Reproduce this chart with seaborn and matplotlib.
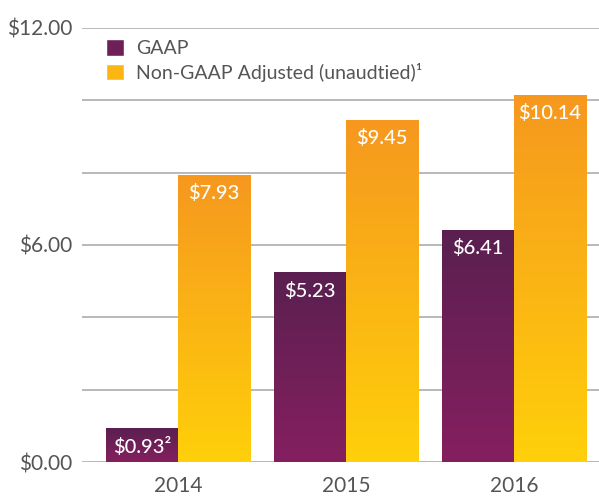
import numpy as np
import pandas as pd
import matplotlib
matplotlib.use('Agg')
import matplotlib.pyplot as plt
from matplotlib.colors import LinearSegmentedColormap
from matplotlib.patches import Patch
import seaborn as sns

years = ["2014", "2015", "2016"]
gaap = [0.93, 5.23, 6.41]
non_gaap = [7.93, 9.45, 10.14]
gaap_labels = ["$0.93²", "$5.23", "$6.41"]
non_gaap_labels = ["$7.93", "$9.45", "$10.14"]
series = ["GAAP", "Non-GAAP Adjusted (unaudtied)¹"]

df = pd.DataFrame({
    "Year": years * 2,
    "EPS": gaap + non_gaap,
    "Series": [series[0]] * 3 + [series[1]] * 3,
})

sns.set_theme(style="white")
plt.rcParams['font.family'] = ['Lato', 'DejaVu Sans']

fig = plt.figure(figsize=(5.99, 4.97), dpi=100)
ax = fig.add_axes([0.137, 0.0704, 0.863, 0.8733])

sns.barplot(data=df, x="Year", y="EPS", hue="Series", ax=ax,
            width=0.86, gap=0, legend=False, saturation=1)

# gradients (top colour, bottom colour) per series
grads = [("#5a1f50", "#85205f"), ("#f6981f", "#ffd00a")]
labels = gaap_labels + non_gaap_labels
grad_arr = np.linspace(0, 1, 256).reshape(-1, 1)
for i, p in enumerate(ax.patches[:6]):
    s = i // 3
    cmap = LinearSegmentedColormap.from_list("g", grads[s])
    x0, y0 = p.get_x(), p.get_y()
    w, h = p.get_width(), p.get_height()
    p.set_visible(False)
    ax.imshow(grad_arr, cmap=cmap, aspect='auto',
              extent=[x0, x0 + w, y0, y0 + h], origin='upper', zorder=3)
    ax.text(x0 + w / 2, y0 + h - 0.25, labels[i], ha='center', va='top',
            color='white', fontsize=14.5, fontweight='medium', zorder=4)

ax.set_xlim(-0.571, 2.506)
ax.set_ylim(0, 12)
ax.set_yticks(np.arange(0, 12.01, 2))
ax.set_yticklabels(["$0.00", "", "", "$6.00", "", "", "$12.00"])
ax.yaxis.grid(True, color="#b3b3b3", linewidth=1.3)
ax.set_axisbelow(True)
ax.tick_params(axis='y', length=0, pad=7, labelsize=15, labelcolor="#555555")
ax.tick_params(axis='x', length=0, pad=10, labelsize=15, labelcolor="#555555")
ax.set_xlabel("")
ax.set_ylabel("")
sns.despine(ax=ax, left=True, bottom=True)

handles = [Patch(facecolor="#6f1f58"), Patch(facecolor="#fbb614")]
leg = ax.legend(handles, series, loc='upper left', bbox_to_anchor=(0.046, 0.975),
                frameon=False, fontsize=14, handlelength=0.95, handleheight=0.95,
                handletextpad=0.6, labelspacing=0.3, borderpad=0, borderaxespad=0)
for t in leg.get_texts():
    t.set_color("#555555")

fig.savefig("out.png", dpi=100)
